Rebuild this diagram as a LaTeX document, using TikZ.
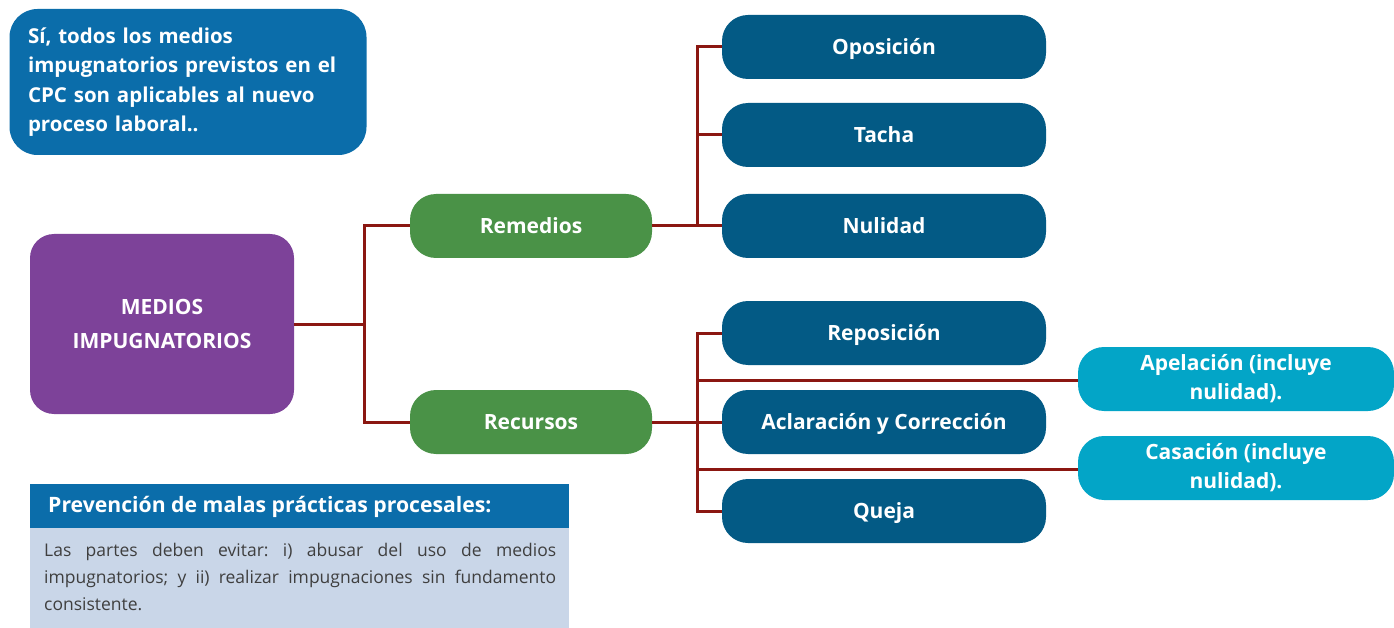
\documentclass[tikz,border=0pt]{standalone}
\usepackage{fontspec}
\setmainfont{Open Sans}
\frenchspacing
\definecolor{topblue}{HTML}{0B6DAA}
\definecolor{purp}{HTML}{7D4299}
\definecolor{grn}{HTML}{4A9247}
\definecolor{dblue}{HTML}{035A85}
\definecolor{cyanb}{HTML}{03A5C7}
\definecolor{conncol}{HTML}{8B1711}
\definecolor{lightb}{HTML}{C9D6E8}
\definecolor{bodytxt}{HTML}{3F3F3F}
\tikzset{
  box/.style={rounded corners=26pt, text=white, font=\bfseries\fontsize{21}{26}\selectfont, align=center, inner sep=0pt},
  onelinebox/.style={box, text height=18pt, text depth=3pt, minimum height=64pt},
  greenbox/.style={onelinebox, fill=grn, minimum width=242pt},
  darkbox/.style={onelinebox, fill=dblue, minimum width=324pt},
  cyanbox/.style={box, fill=cyanb, minimum width=316pt, minimum height=64pt, font=\bfseries\fontsize{21}{29}\selectfont},
  conn/.style={draw=conncol, line width=3pt},
}
\begin{document}
\begin{tikzpicture}[x=1pt,y=-1pt]
\useasboundingbox (0,0) rectangle (1394,628);
% top note
\node[box, fill=topblue, rounded corners=28pt, minimum width=357pt, minimum height=146pt, text width=320pt, align=left, font=\bfseries\fontsize{20.5}{29.5}\selectfont] (note) at (188,82)
  {Sí, todos los medios\\impugnatorios previstos en el\\CPC son aplicables al nuevo\\proceso laboral..};
% main
\node[box, fill=purp, rounded corners=24pt, minimum width=264pt, minimum height=180pt, font=\bfseries\fontsize{21}{34}\selectfont] (med) at (162,324) {MEDIOS\\IMPUGNATORIOS};
\node[greenbox] (rem) at (531,226) {Remedios};
\node[greenbox] (rec) at (531,422) {Recursos};
\node[darkbox] (opo) at (884,47) {Oposición};
\node[darkbox] (tac) at (884,135) {Tacha};
\node[darkbox] (nul) at (884,226) {Nulidad};
\node[darkbox] (rep) at (884,333) {Reposición};
\node[darkbox] (acl) at (884,422) {Aclaración y Corrección};
\node[darkbox] (que) at (884,511) {Queja};
\node[cyanbox] (ape) at (1236,379) {Apelación (incluye\\nulidad).};
\node[cyanbox] (cas) at (1236,468) {Casación (incluye\\nulidad).};
% connectors
\coordinate (j1) at (364,324);
\coordinate (j2) at (697,226);
\coordinate (j3) at (697,422);
\draw[conn] (med.east) -- (j1);
\draw[conn] (rem.west) -| (j1) |- (rec.west);
\draw[conn] (rem.east) -- (nul.west);
\draw[conn] (opo.west) -| (j2);
\draw[conn] (tac.west) -| (j2);
\draw[conn] (rec.east) -- (acl.west);
\draw[conn] (rep.west) -| (j3) |- (que.west);
\draw[conn] ([yshift=-1pt]ape.west) -- ([yshift=-1pt]ape.west -| j3);
\draw[conn] ([yshift=-1pt]cas.west) -- ([yshift=-1pt]cas.west -| j3);
% bottom panel
\node[fill=topblue, minimum width=539pt, minimum height=44pt, inner sep=0pt] (head) at (299.5,506) {};
\node[anchor=west, text=white, font=\bfseries\fontsize{21.2}{24}\selectfont, inner sep=0pt] (headtxt) at (48,507) {Prevención de malas prácticas procesales:};
\node[fill=lightb, minimum width=539pt, minimum height=100pt, inner sep=0pt, anchor=north] (body) at (head.south) {};
\node[anchor=north west, text=bodytxt, text width=512pt, align=justify, inner sep=0pt, font=\fontsize{17.5}{27}\selectfont] (bodytxt) at (44,543)
  {Las partes deben evitar: i) abusar del uso de medios\linebreak impugnatorios; y ii) realizar impugnaciones sin fundamento\linebreak consistente.};
\end{tikzpicture}
\end{document}
